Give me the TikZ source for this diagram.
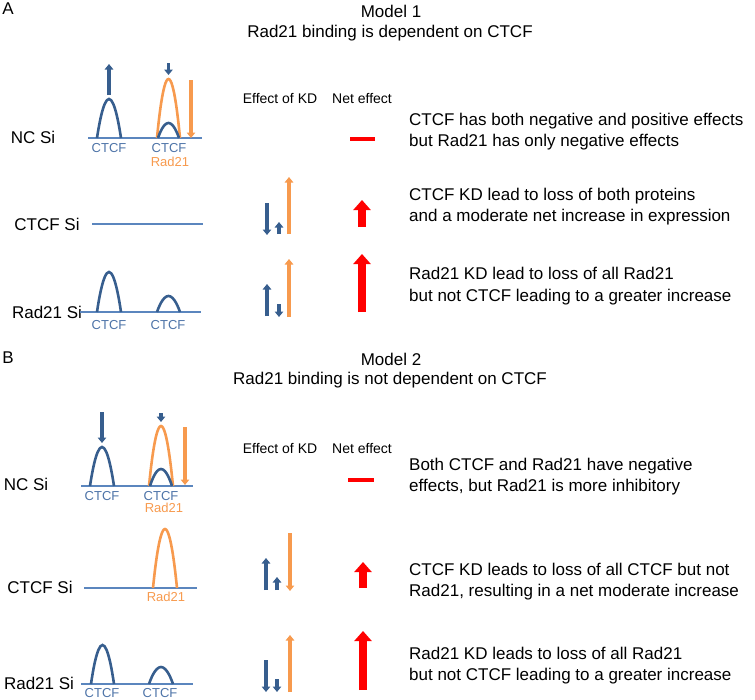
\documentclass[tikz,border=0pt]{standalone}
\usepackage{fontspec}
\setmainfont{Liberation Sans}
\usetikzlibrary{arrows.meta}
\definecolor{peakblue}{HTML}{375E8E}
\definecolor{baseblue}{HTML}{5B86BE}
\definecolor{lblblue}{HTML}{4E74A8}
\definecolor{radorange}{HTML}{F79A4E}
\definecolor{netred}{HTML}{FF0000}

\begin{document}
\begin{tikzpicture}[x=1pt, y=-1pt,
	every node/.style={inner sep=0pt},
	bigtext/.style={font=\fontsize{17}{21.5}\selectfont},
	colhead/.style={font=\fontsize{14}{16}\selectfont},
	sidenote/.style={font=\fontsize{17}{21.5}\selectfont, anchor=west, align=left},
	ctcflbl/.style={font=\fontsize{13}{15}\selectfont, text=lblblue},
	radlbl/.style={font=\fontsize{13}{15}\selectfont, text=radorange},
	dnaline/.style={draw=baseblue, line width=1.3pt},
	ctcfpeak/.style={draw=peakblue, line width=2.6pt},
	radpeak/.style={draw=radorange, line width=2.6pt},
	kdarrow/.style={line width=3.4pt, -{Triangle[width=8.5pt,length=5.5pt]}},
	netarrow/.style={draw=netred, line width=8pt, -{Triangle[width=17pt,length=10pt]}},
	nullbar/.style={draw=netred, line width=4.5pt}]
	\useasboundingbox (0,0) rectangle (755,699);

	% Model 1
	\node[bigtext] (labA) at (8,9) {A};
	\node[bigtext] (modA) at (391,11) {Model 1};
	\node[bigtext] (bindA) at (390,33) {Rad21 binding is dependent on CTCF};
	\node[colhead] (kdA) at (280,99) {Effect of KD};
	\node[colhead] (netA) at (362,99) {Net effect};

	\node[bigtext] (ncA) at (33,137) {NC Si};
	\draw[dnaline] (88,138) -- (202,138);
	\draw[ctcfpeak] (97,138) parabola bend (109,99) (121,138);
	\draw[radpeak] (157,138) parabola bend (168.5,79) (180,138);
	\draw[ctcfpeak] (158,138) parabola bend (168.5,123) (179,138);
	\draw[kdarrow, draw=peakblue] (109,95) -- (109,64);
	\draw[kdarrow, draw=peakblue] (168.5,63) -- (168.5,75);
	\draw[kdarrow, draw=radorange] (191,80) -- (191,138);
	\node[ctcflbl] (ncA1) at (109,148) {CTCF};
	\node[ctcflbl] (ncA2) at (169,148) {CTCF};
	\node[radlbl] (ncA3) at (170,162) {Rad21};
	\draw[nullbar] (350,139) -- (375,139);
	\node[sidenote] (txtA1) at (409,131.5) {CTCF has both negative and positive effects\\but Rad21 has only negative effects};

	\node[bigtext] (ctA) at (47,224) {CTCF Si};
	\draw[dnaline] (92,224) -- (203,224);
	\draw[kdarrow, draw=peakblue] (267,203) -- (267,235);
	\draw[kdarrow, draw=peakblue] (279,234) -- (279,222);
	\draw[kdarrow, draw=radorange] (289,234) -- (289,177);
	\draw[netarrow] (362,227) -- (362,200);
	\node[sidenote] (txtA2) at (409,206.5) {CTCF KD lead to loss of both proteins\\and a moderate net increase in expression};

	\node[bigtext] (rdA) at (47,312) {Rad21 Si};
	\draw[dnaline] (80,312) -- (201,312);
	\draw[ctcfpeak] (97,312) parabola bend (109,272) (121,312);
	\draw[ctcfpeak] (157,312) parabola bend (168.5,296) (180,312);
	\node[ctcflbl] (rdA1) at (109,325) {CTCF};
	\node[ctcflbl] (rdA2) at (168,325) {CTCF};
	\draw[kdarrow, draw=peakblue] (267,316) -- (267,284);
	\draw[kdarrow, draw=peakblue] (279,304) -- (279,317);
	\draw[kdarrow, draw=radorange] (289,317) -- (289,259);
	\draw[netarrow] (362,312) -- (362,254);
	\node[sidenote] (txtA3) at (409,286) {Rad21 KD lead to loss of all Rad21\\but not CTCF leading to a greater increase};

	% Model 2
	\node[bigtext] (labB) at (8,358) {B};
	\node[bigtext] (modB) at (391,359) {Model 2};
	\node[bigtext] (bindB) at (390,380) {Rad21 binding is not dependent on CTCF};
	\node[colhead] (kdB) at (280,448) {Effect of KD};
	\node[colhead] (netB) at (362,448) {Net effect};

	\node[bigtext] (ncB) at (26,484) {NC Si};
	\draw[dnaline] (81,486) -- (193,486);
	\draw[ctcfpeak] (90,486) parabola bend (102,447) (114,486);
	\draw[radpeak] (149,486) parabola bend (161,426) (173,486);
	\draw[ctcfpeak] (150,486) parabola bend (161,469) (172,486);
	\draw[kdarrow, draw=peakblue] (102,412) -- (102,443);
	\draw[kdarrow, draw=peakblue] (161,413) -- (161,422);
	\draw[kdarrow, draw=radorange] (185,427) -- (185,485);
	\node[ctcflbl] (ncB1) at (102,496) {CTCF};
	\node[ctcflbl] (ncB2) at (161,496) {CTCF};
	\node[radlbl] (ncB3) at (164,508) {Rad21};
	\draw[nullbar] (348,480) -- (374,480);
	\node[sidenote] (txtB1) at (409,476.5) {Both CTCF and Rad21 have negative\\effects, but Rad21 is more inhibitory};

	\node[bigtext] (ctB) at (40,587) {CTCF Si};
	\draw[dnaline] (84,588) -- (197,588);
	\draw[radpeak] (153,588) parabola bend (165,529) (177,588);
	\node[radlbl] (ctB1) at (166,597) {Rad21};
	\draw[kdarrow, draw=peakblue] (266,590) -- (266,558);
	\draw[kdarrow, draw=peakblue] (277,590) -- (277,577);
	\draw[kdarrow, draw=radorange] (290,533) -- (290,591);
	\draw[netarrow] (363,588) -- (363,562);
	\node[sidenote] (txtB2) at (409,581.5) {CTCF KD leads to loss of all CTCF but not\\Rad21, resulting in a net moderate increase};

	\node[bigtext] (rdB) at (39,683) {Rad21 Si};
	\draw[dnaline] (81,684) -- (193,684);
	\draw[ctcfpeak] (91,684) parabola bend (102.5,645) (114,684);
	\draw[ctcfpeak] (149,684) parabola bend (161,667) (173,684);
	\node[ctcflbl] (rdB1) at (102,693) {CTCF};
	\node[ctcflbl] (rdB2) at (160,693) {CTCF};
	\draw[kdarrow, draw=peakblue] (266,660) -- (266,692);
	\draw[kdarrow, draw=peakblue] (277,679) -- (277,692);
	\draw[kdarrow, draw=radorange] (290,692) -- (290,635);
	\draw[netarrow] (363,690) -- (363,631);
	\node[sidenote] (txtB3) at (409,665.5) {Rad21 KD leads to loss of all Rad21\\but not CTCF leading to a greater increase};
\end{tikzpicture}
\end{document}
